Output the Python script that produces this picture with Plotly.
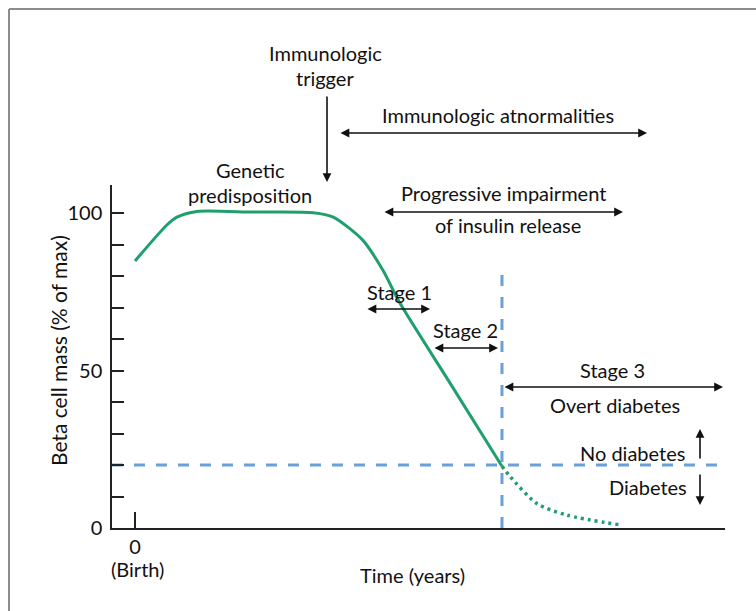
import plotly.graph_objects as go

# Beta cell mass over time (arbitrary time units, 0 = birth)
mass_x = [0, 5.4, 7.1, 10.5, 20, 30.2, 33.6, 38.6, 42, 44.9, 53.4, 62.2]
mass_y = [84.8, 96.2, 98.7, 100.5, 100.3, 100.1, 98.7, 91.4, 81.9, 71.4, 46, 19.6]

# Continued decline after onset of overt diabetes
decline_x = [62.2, 63.6, 68.1, 73.2, 82.2]
decline_y = [19.6, 16.3, 7.8, 4.1, 1.0]

diabetes_threshold = 20      # % of max beta cell mass
onset_time = 62.2            # time of clinical onset
onset_line_top = 83.5

y_tick_vals = [0, 10, 20, 30, 40, 50, 60, 70, 80, 90, 100]
y_tick_text = ["0", "", "", "", "", "50", "", "", "", "", "100"]

X_RANGE = [-3.9, 100]
Y_RANGE = [0, 108.9]

GREEN = "#1f9f6c"
BLUE = "#6a9fd8"
INK = "#111111"
FONT = "Lato"
SIZE = 20

# Plot area in page pixels (left, right, top, bottom)
L, R, T, B = 112, 725, 185, 528


def px(x):
    return (x - L) / (R - L)


def py(y):
    return (B - y) / (B - T)


fig = go.Figure()

fig.add_trace(go.Scatter(
    x=[X_RANGE[0], X_RANGE[1]], y=[diabetes_threshold, diabetes_threshold],
    mode="lines", line=dict(color=BLUE, width=3, dash="11px,11px"),
    hoverinfo="skip", showlegend=False))
fig.add_trace(go.Scatter(
    x=[onset_time, onset_time], y=[0, onset_line_top],
    mode="lines", line=dict(color=BLUE, width=3, dash="11px,11px"),
    hoverinfo="skip", showlegend=False))
fig.add_trace(go.Scatter(
    x=mass_x, y=mass_y, mode="lines",
    line=dict(color=GREEN, width=3, shape="spline", smoothing=0.7),
    showlegend=False))
fig.add_trace(go.Scatter(
    x=decline_x, y=decline_y, mode="lines",
    line=dict(color=GREEN, width=3.5, shape="spline", smoothing=0.8, dash="3px,4px"),
    showlegend=False))

annotations = []


def label(text, x, y, xanchor="center", size=SIZE, angle=0):
    # x, y in page pixels
    annotations.append(dict(
        text=text, x=px(x), y=py(y), xref="paper", yref="paper",
        xanchor=xanchor, yanchor="middle", textangle=angle,
        showarrow=False, font=dict(family=FONT, size=size, color=INK)))


def arrow(x0, y0, x1, y1, both=False):
    # tail (x0, y0) and head (x1, y1) in page pixels
    annotations.append(dict(
        text="", x=px(x1), y=py(y1), ax=x0 - x1, ay=y0 - y1,
        xref="paper", yref="paper", axref="pixel", ayref="pixel",
        showarrow=True, arrowhead=2, arrowsize=1.1, arrowwidth=1.6, arrowcolor=INK,
        arrowside="end+start" if both else "end", standoff=0, startstandoff=0))


label("Immunologic", 325, 53)
label("trigger", 325, 78)
arrow(327, 95, 327, 182)

label("Genetic", 250, 170)
label("predisposition", 250, 195)

label("Immunologic atnormalities", 498, 115)
arrow(339, 133, 647, 133, both=True)

label("Progressive impairment", 503, 193)
arrow(383, 212, 623, 212, both=True)
label("of insulin release", 508, 225)

label("Stage 1", 399, 292)
arrow(366, 309, 430, 309, both=True)

label("Stage 2", 465, 330)
arrow(433, 348, 498, 348, both=True)

label("Stage 3", 612, 370)
arrow(503, 387, 723, 387, both=True)
label("Overt diabetes", 615, 405)

label("No diabetes", 687, 453, xanchor="right")
arrow(700, 460, 700, 429)
label("Diabetes", 689, 487, xanchor="right")
arrow(700, 473, 700, 505)

label("(Birth)", 137, 569)
label("Time (years)", 412, 575)
label("Beta cell mass (% of max)", 58, 351, size=21, angle=-90)

# Frame along the top and left edges of the figure
frame = dict(type="line", xref="paper", yref="paper",
             line=dict(color="#8c8c8c", width=2))
shapes = [
    dict(frame, x0=px(9), x1=px(760), y0=py(9), y1=py(9)),
    dict(frame, x0=px(9), x1=px(9), y0=py(9), y1=py(615)),
]

fig.update_layout(
    width=756, height=611,
    margin=dict(l=L, r=756 - R, t=T, b=611 - B),
    paper_bgcolor="white", plot_bgcolor="white",
    font=dict(family=FONT, size=SIZE, color=INK),
    annotations=annotations, shapes=shapes,
    xaxis=dict(range=X_RANGE, showgrid=False, zeroline=False,
               showline=True, linecolor="#222222", linewidth=1.5,
               tickvals=[0], ticktext=["0"], ticks="inside", ticklen=16,
               tickwidth=1.5, tickcolor="#222222", ticklabelstandoff=0,
               tickfont=dict(family=FONT, size=SIZE, color=INK)),
    yaxis=dict(range=Y_RANGE, showgrid=False, zeroline=False,
               showline=True, linecolor="#222222", linewidth=1.5,
               tickvals=y_tick_vals, ticktext=y_tick_text,
               ticks="inside", ticklen=12, tickwidth=1.5, tickcolor="#222222",
               ticklabelstandoff=4,
               tickfont=dict(family=FONT, size=SIZE, color=INK)),
)

fig.write_html("out.html")
